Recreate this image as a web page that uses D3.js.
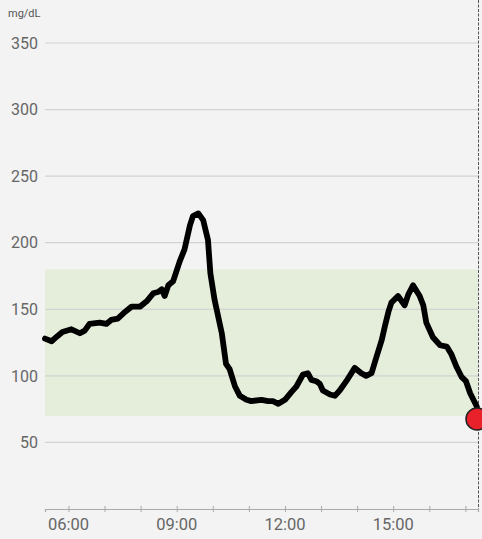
<!DOCTYPE html>
<html>
<head>
<meta charset="utf-8">
<script src="https://cdn.jsdelivr.net/npm/d3@7"></script>
<style>
  html, body { margin: 0; padding: 0; background: #f3f3f3; }
  svg { display: block; font-family: Roboto, "Noto Sans", sans-serif; }
</style>
</head>
<body>
<svg id="chart"></svg>
<script>
// glucose readings (time of day, mg/dL)
const times = ["05:21","05:32","05:42","05:50","06:05","06:19","06:27","06:35","06:52","07:03",
  "07:11","07:22","07:34","07:45","07:59","08:10","08:21","08:29","08:35","08:40",
  "08:46","08:54","09:05","09:13","09:22","09:27","09:36","09:44","09:52","09:56",
  "10:03","10:15","10:22","10:28","10:37","10:45","10:56","11:04","11:21","11:32",
  "11:40","11:49","12:00","12:11","12:19","12:30","12:38","12:44","12:52","12:58",
  "13:03","13:15","13:23","13:31","13:42","13:56","14:07","14:15","14:24","14:32",
  "14:41","14:46","14:52","14:57","15:08","15:19","15:25","15:33","15:44","15:50",
  "15:55","16:06","16:18","16:29","16:37","16:45","16:54","17:01","17:08","17:19","17:21"];
const glucose = [128,126,130,133,135,132,134,139,140,139,
  142,143,148,152,152,156,162,163,165,160,
  168,171,186,195,213,220,222,217,202,177,
  157,132,109,105,92,85,82,81,82,81,
  81,79,82,88,92,101,102,97,96,94,
  89,86,85,89,96,106,102,100,102,114,
  127,137,148,155,160,153,161,168,160,153,
  140,129,123,122,116,107,99,96,87,77,68];

const yTicks = [50, 100, 150, 200, 250, 300, 350];
const targetRange = [70, 180];
const timeStart = "05:21";
const timeNow = "17:21";

const width = 482, height = 539;
const margin = { top: 43, right: 4, bottom: 30, left: 45 };

const parseTime = d3.timeParse("%H:%M");
const data = times.map((t, i) => ({ time: parseTime(t), value: glucose[i] }));

const svg = d3.select("#chart")
    .attr("width", width)
    .attr("height", height);

svg.append("rect")
    .attr("width", width)
    .attr("height", height)
    .attr("fill", "#f3f3f3");

const x = d3.scaleTime()
    .domain([parseTime(timeStart), parseTime(timeNow)])
    .range([margin.left, width - margin.right]);

const y = d3.scaleLinear()
    .domain([0, 350])
    .range([height - margin.bottom, margin.top]);

// target range band
svg.append("rect")
    .attr("x", x.range()[0])
    .attr("width", x.range()[1] - x.range()[0])
    .attr("y", y(targetRange[1]))
    .attr("height", y(targetRange[0]) - y(targetRange[1]))
    .attr("fill", "#e5eedb");

// horizontal grid
svg.append("g")
    .selectAll("line")
    .data(yTicks)
    .enter()
    .append("line")
    .attr("x1", x.range()[0])
    .attr("x2", x.range()[1])
    .attr("y1", d => y(d))
    .attr("y2", d => y(d))
    .attr("stroke", "#d2d2d2")
    .attr("stroke-width", 1.2);

// y labels
svg.append("g")
    .selectAll("text")
    .data(yTicks)
    .enter()
    .append("text")
    .attr("x", 38)
    .attr("y", d => y(d))
    .attr("dy", "0.36em")
    .attr("text-anchor", "end")
    .attr("fill", "#666")
    .attr("font-size", "16px")
    .text(d => d);

svg.append("text")
    .attr("x", 8)
    .attr("y", 17)
    .attr("fill", "#555")
    .attr("font-size", "11px")
    .text("mg/dL");

// x axis
const xAxis = svg.append("g")
    .attr("transform", `translate(0, ${y(0)})`)
    .call(d3.axisBottom(x)
        .ticks(d3.timeHour.every(1))
        .tickSize(3)
        .tickFormat(""));
xAxis.select(".domain").attr("stroke", "#aaa").attr("stroke-width", 1.2);
xAxis.selectAll(".tick line").attr("stroke", "#aaa").attr("y1", -3);

svg.append("g")
    .selectAll("text")
    .data(x.ticks(d3.timeHour.every(3)))
    .enter()
    .append("text")
    .attr("x", d => x(d))
    .attr("y", y(0) + 21)
    .attr("text-anchor", "middle")
    .attr("fill", "#666")
    .attr("font-size", "16.5px")
    .text(d => d3.timeFormat("%H:%M")(d));

// "now" marker line
const nowX = Math.round(x(parseTime(timeNow))) + 0.5;
svg.append("line")
    .attr("x1", nowX)
    .attr("x2", nowX)
    .attr("y1", 0)
    .attr("y2", y(0))
    .attr("stroke", "#555")
    .attr("stroke-width", 1)
    .attr("stroke-dasharray", "3,1.5");

// glucose line
const line = d3.line()
    .x(d => x(d.time))
    .y(d => y(d.value));

svg.append("path")
    .datum(data)
    .attr("fill", "none")
    .attr("stroke", "#000")
    .attr("stroke-width", 5.8)
    .attr("stroke-linejoin", "round")
    .attr("stroke-linecap", "round")
    .attr("d", line);

// latest reading
const last = data[data.length - 1];
svg.append("circle")
    .attr("cx", x(last.time) - 1)
    .attr("cy", y(last.value) + 0.5)
    .attr("r", 11)
    .attr("fill", "#e8212b")
    .attr("stroke", "#222")
    .attr("stroke-width", 1.5);
</script>
</body>
</html>
